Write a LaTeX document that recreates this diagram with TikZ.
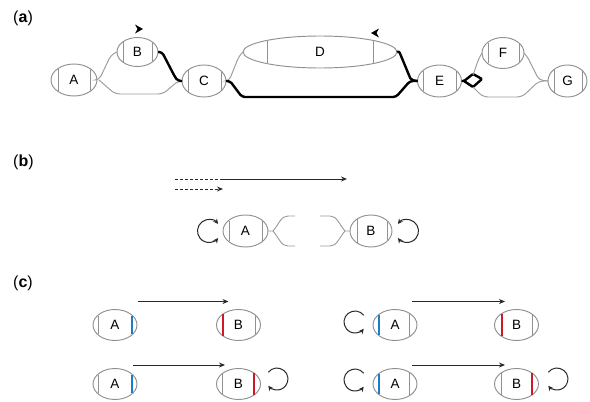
\documentclass[tikz,border=0pt]{standalone}
\usepackage{fontspec}
\setmainfont{Liberation Sans}
\usetikzlibrary{shapes.geometric,arrows.meta}
\definecolor{cellgray}{RGB}{145,145,145}
\definecolor{linegray}{RGB}{155,155,155}
\definecolor{arrblk}{RGB}{40,40,40}
\definecolor{cblue}{RGB}{25,125,200}
\definecolor{cred}{RGB}{205,25,35}
\newcommand\cellat[6]{\node[cell,minimum width={2*#4pt},minimum height={2*#5pt}] (#1) at (#2,#3) {#6};}
\newcommand\dv[6][divider]{\pgfmathsetmacro\hh{(#5)*sqrt(1-((#6)/(#4))^2)-0.4}\draw[#1] ({#2+(#6)},{#3-\hh}) -- ({#2+(#6)},{#3+\hh});}
\newcommand\loopat[6][]{\draw[loopline,#1] ([shift={(#4:#5)}]#2,#3) arc[start angle=#4,end angle=#6,radius=#5];}
\begin{document}
\begin{tikzpicture}[x=1pt,y=-1pt,
 cell/.style={ellipse,draw=cellgray,line width=0.95pt,inner sep=0pt,outer sep=0pt,font=\fontsize{13.5}{13.5}\selectfont},
 divider/.style={draw=cellgray,line width=0.95pt},
 bluediv/.style={draw=cblue,line width=2.1pt},
 reddiv/.style={draw=cred,line width=2.1pt},
 thinlink/.style={draw=linegray,line width=0.95pt,rounded corners=4pt},
 thicklink/.style={draw=black,line width=2.4pt,rounded corners=3pt,line join=round},
 arr/.style={draw=arrblk,line width=1pt,-{Stealth[length=6pt,width=5pt]}},
 dashline/.style={draw=arrblk,line width=1pt,dash pattern=on 3pt off 2pt},
 loopline/.style={draw=arrblk,line width=1pt},
 lbl/.style={font=\fontsize{16}{16}\selectfont,anchor=west,inner sep=0pt}]
\useasboundingbox (0,0) rectangle (590,402);

% ---------- panel labels
\node[lbl] (la) at (13,18) {(\textbf{a})};
\node[lbl] (lb) at (13,162) {(\textbf{b})};
\node[lbl] (lc) at (13,283) {(\textbf{c})};

% ---------- panel (a)
\cellat{A}{74}{80}{23}{16}{A}
\dv{74}{80}{23}{16}{-16}\dv{74}{80}{23}{16}{16}
\cellat{B}{137.5}{52}{20.5}{14.5}{B}
\dv{137.5}{52}{20.5}{14.5}{-14.5}\dv{137.5}{52}{20.5}{14.5}{15}
\cellat{C}{204}{81}{22}{16}{C}
\dv{204}{81}{22}{16}{-16}\dv{204}{81}{22}{16}{17}
\cellat{D}{320}{52}{77}{16}{D}
\dv{320}{52}{77}{16}{-53}\dv{320}{52}{77}{16}{53}
\cellat{E}{439.5}{81}{22}{16}{E}
\dv{439.5}{81}{22}{16}{-16.5}\dv{439.5}{81}{22}{16}{17}
\cellat{F}{503}{53}{21}{15.5}{F}
\dv{503}{53}{21}{15.5}{-15}\dv{503}{53}{21}{15.5}{16}
\cellat{G}{567.5}{81}{19.5}{16}{G}
\dv{567.5}{81}{19.5}{16}{-13}\dv{567.5}{81}{19.5}{16}{15}

\draw[thinlink] (A.east) -- (99,80) -- (111,55) -- (B.west);
\draw[thinlink,rounded corners=5pt] (99,80) -- (115,94) -- (163,94) -- (178,81) -- (C.west);
\draw[thicklink] (B.east) -- (162,52) -- (175,77) -- (178,81) -- (C.west);
\draw[thinlink] (C.east) -- (229,81) -- (239,56) -- (D.west);
\draw[thicklink] (C.east) -- (230,81) -- (242,97) -- (396,97) -- (410,81) -- (E.west);
\draw[thicklink,rounded corners=2pt] (D.east) -- (399,51) -- (411,80) -- (E.west);
\draw[thicklink,rounded corners=1pt] (E.east) -- (464,81) -- (473,74) -- (482,79) -- (473,87) -- (464,81);
\draw[thinlink] (473,75) -- (479,58) -- (F.west);
\draw[thinlink,rounded corners=5pt] (473,87) -- (483,97) -- (522,97) -- (539,81) -- (G.west);
\draw[thinlink] (F.east) -- (527,56) -- (539,80) -- (G.west);
\fill[black] (143,29) -- (135,24.5) -- (137.5,29) -- (135,33.5) -- cycle;
\fill[black] (371,33) -- (379,28.5) -- (376.5,33) -- (379,37.5) -- cycle;

% ---------- panel (b)
\draw[dashline] (175,179) -- (220,179);
\draw[arr] (220,179) -- (347,179);
\draw[dashline,-{Stealth[length=6pt,width=5pt]}] (175,189) -- (223,189);

\cellat{Ab}{245.5}{231}{22.5}{16}{A}
\dv{245.5}{231}{22.5}{16}{-16.5}\dv{245.5}{231}{22.5}{16}{17}
\cellat{Bb}{371}{231}{21}{16}{B}
\dv{371}{231}{21}{16}{-14}\dv{371}{231}{21}{16}{16}
\draw[thinlink,rounded corners=0pt] (Ab.east) -- (273,231) .. controls (279,224) and (281,216) .. (288,216) -- (295,216);
\draw[thinlink,rounded corners=0pt] (273,231) .. controls (279,238) and (281,246) .. (288,246) -- (295,246);
\draw[thinlink,rounded corners=0pt] (Bb.west) -- (345,231) .. controls (339,224) and (337,216) .. (330,216) -- (320,216);
\draw[thinlink,rounded corners=0pt] (345,231) .. controls (339,238) and (337,246) .. (330,246) -- (320,246);
\loopat[{Stealth[length=5pt,width=5pt]}-{Stealth[length=5pt,width=5pt]}]{209}{231}{-38}{11.5}{-322}
\loopat[{Stealth[length=5pt,width=5pt]}-{Stealth[length=5pt,width=5pt]}]{407}{231}{-142}{11.5}{142}

% ---------- panel (c)
% left column
\cellat{A1}{115}{325}{22}{15.5}{A}
\dv{115}{325}{22}{15.5}{-17}\dv[bluediv]{115}{325}{22}{15.5}{17}
\cellat{B1}{238.5}{325}{22}{15.5}{B}
\dv[reddiv]{238.5}{325}{22}{15.5}{-15.5}\dv{238.5}{325}{22}{15.5}{16.5}
\draw[arr] ([xshift=23pt,yshift=8pt]A1.north) -- ([xshift=-10pt,yshift=8pt]B1.north);

\cellat{A2}{115}{384}{22}{15.5}{A}
\dv{115}{384}{22}{15.5}{-17}\dv[bluediv]{115}{384}{22}{15.5}{17}
\cellat{B2}{238.5}{384}{22}{15.5}{B}
\dv{238.5}{384}{22}{15.5}{-16.5}\dv[reddiv]{238.5}{384}{22}{15.5}{15.5}
\draw[arr] ([xshift=18pt,yshift=3.5pt]A2.north) -- ([xshift=-13.5pt,yshift=3.5pt]B2.north);
\loopat[-{Stealth[length=5pt,width=5pt]}]{277}{379}{-142}{11}{142}

% right column
\cellat{A3}{395}{325}{22}{15.5}{A}
\dv[bluediv]{395}{325}{22}{15.5}{-16}\dv{395}{325}{22}{15.5}{14}
\cellat{B3}{516.5}{325}{22}{15.5}{B}
\dv[reddiv]{516.5}{325}{22}{15.5}{-14.5}\dv{516.5}{325}{22}{15.5}{16}
\draw[arr] ([xshift=17pt,yshift=8pt]A3.north) -- ([xshift=-11.5pt,yshift=8pt]B3.north);
\loopat[-{Stealth[length=5pt,width=5pt]}]{355}{322}{-38}{11}{-322}

\cellat{A4}{395}{384}{22}{15.5}{A}
\dv[bluediv]{395}{384}{22}{15.5}{-16}\dv{395}{384}{22}{15.5}{14}
\cellat{B4}{516.5}{384}{22}{15.5}{B}
\dv{516.5}{384}{22}{15.5}{-15}\dv[reddiv]{516.5}{384}{22}{15.5}{15.5}
\draw[arr] ([xshift=17pt,yshift=3.5pt]A4.north) -- ([xshift=-11.5pt,yshift=3.5pt]B4.north);
\loopat[-{Stealth[length=5pt,width=5pt]}]{355}{380}{-38}{11}{-322}
\loopat[-{Stealth[length=5pt,width=5pt]}]{557}{379}{-142}{11}{142}
\end{tikzpicture}
\end{document}
